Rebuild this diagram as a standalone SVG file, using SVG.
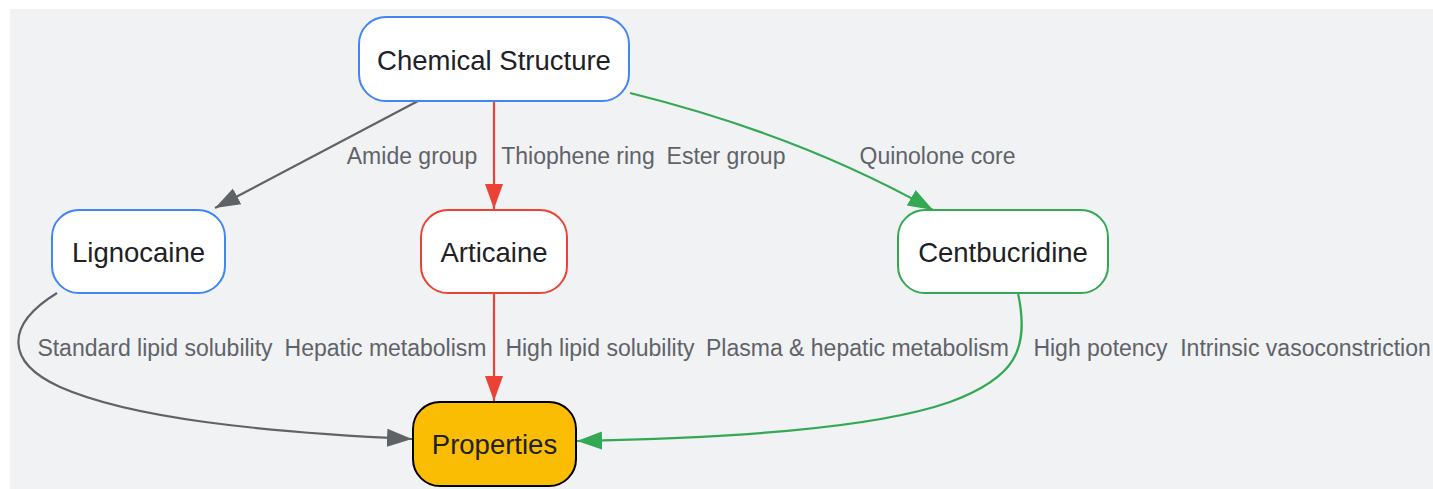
<svg xmlns="http://www.w3.org/2000/svg" width="1433" height="489" viewBox="0 0 1433 489">
<style>
.node rect{stroke-width:2}
.node text{font-family:"Liberation Sans",Arial,sans-serif;font-size:27.5px;fill:#202124;text-anchor:middle}
.lbl{font-family:"Liberation Sans",Arial,sans-serif;font-size:23px;fill:#5f6368;text-anchor:middle}
.edge{fill:none;stroke-width:2.2}
</style>
<defs>
<marker id="ag" markerUnits="userSpaceOnUse" markerWidth="26" markerHeight="20" refX="25" refY="9" orient="auto" viewBox="0 0 26 18"><path d="M0,0 L25,9 L0,18 Z" fill="#5f6368"/></marker>
<marker id="ar" markerUnits="userSpaceOnUse" markerWidth="26" markerHeight="20" refX="25" refY="9" orient="auto" viewBox="0 0 26 18"><path d="M0,0 L25,9 L0,18 Z" fill="#ea4335"/></marker>
<marker id="agr" markerUnits="userSpaceOnUse" markerWidth="26" markerHeight="20" refX="25" refY="9" orient="auto" viewBox="0 0 26 18"><path d="M0,0 L25,9 L0,18 Z" fill="#34a853"/></marker>
</defs>
<rect x="10" y="9" width="1423" height="480" fill="#f1f2f4"/>
<g id="connectors">
<path class="edge" stroke="#5f6368" d="M418,101 L215,208" marker-end="url(#ag)"/>
<path class="edge" stroke="#ea4335" d="M494,101 L494,209" marker-end="url(#ar)"/>
<path class="edge" stroke="#34a853" d="M630,93 Q800,135 933,210" marker-end="url(#agr)"/>
<path class="edge" stroke="#5f6368" d="M57,293 C5,325 5,362 60,387 C130,418 260,432 412,439" marker-end="url(#ag)"/>
<path class="edge" stroke="#ea4335" d="M494,293 L494,401" marker-end="url(#ar)"/>
<path class="edge" stroke="#34a853" d="M1018,293 C1030,350 1015,378 950,402 C870,430 720,438 577,441" marker-end="url(#agr)"/>
</g>
<g id="edge-labels">
<text class="lbl" x="412" y="164">Amide group</text>
<text class="lbl" x="578" y="164">Thiophene ring</text>
<text class="lbl" x="726" y="164">Ester group</text>
<text class="lbl" x="937.5" y="164">Quinolone core</text>
<text class="lbl" x="155" y="356">Standard lipid solubility</text>
<text class="lbl" x="385.5" y="356">Hepatic metabolism</text>
<text class="lbl" x="600" y="356">High lipid solubility</text>
<text class="lbl" x="857.5" y="356">Plasma &amp; hepatic metabolism</text>
<text class="lbl" x="1100.5" y="356">High potency</text>
<text class="lbl" x="1305.5" y="356">Intrinsic vasoconstriction</text>
</g>
<g id="chemical-structure" class="node">
<rect x="359" y="17" width="270" height="84" rx="27" fill="#ffffff" stroke="#4285f4"/>
<text x="494" y="69.5">Chemical Structure</text>
</g>
<g id="lignocaine" class="node">
<rect x="52" y="210" width="173" height="83" rx="27" fill="#ffffff" stroke="#4285f4"/>
<text x="138.5" y="261.5">Lignocaine</text>
</g>
<g id="articaine" class="node">
<rect x="421" y="210" width="146" height="83" rx="27" fill="#ffffff" stroke="#ea4335"/>
<text x="494" y="261.5">Articaine</text>
</g>
<g id="centbucridine" class="node">
<rect x="898" y="210" width="210" height="83" rx="27" fill="#ffffff" stroke="#34a853"/>
<text x="1003" y="261.5">Centbucridine</text>
</g>
<g id="properties" class="node">
<rect x="413" y="402" width="163" height="84" rx="27" fill="#fbbc04" stroke="#000000"/>
<text x="494.5" y="453.5">Properties</text>
</g>
</svg>
